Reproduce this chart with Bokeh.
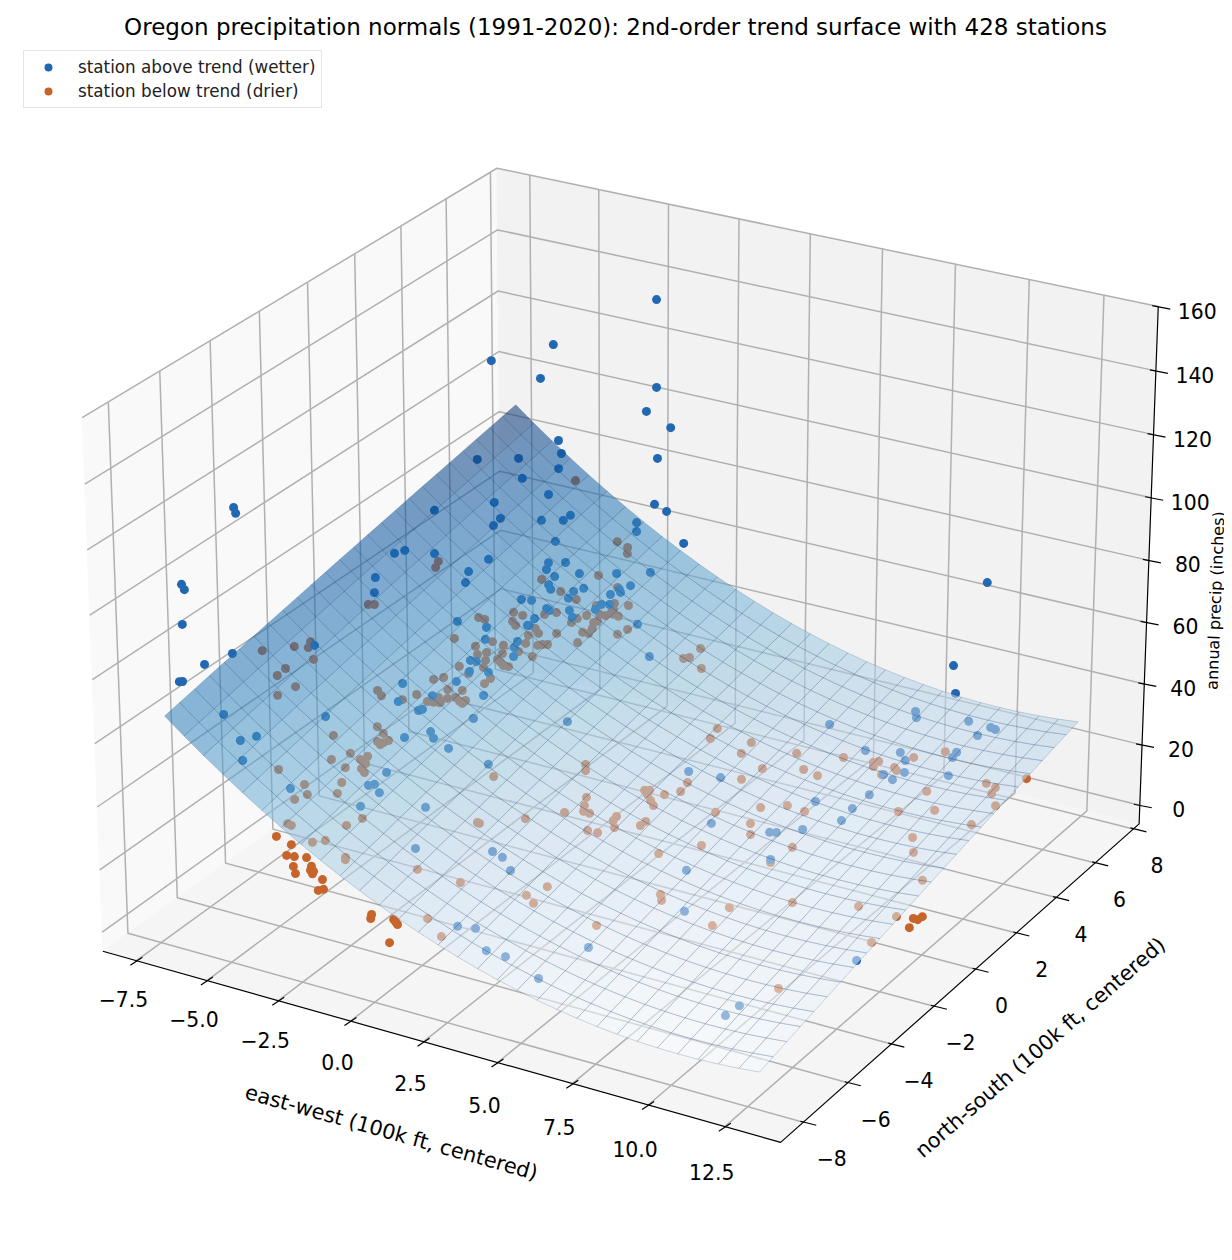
import numpy as np
from bokeh.plotting import figure
from bokeh.embed import file_html
from bokeh.resources import INLINE
from bokeh.core.properties import value
from bokeh.models import Legend, LegendItem

# ---- chart values -------------------------------------------------------
above_x = [-7.19,-7.23,-7.16,-7.20,-7.14,-7.13,-6.88,-7.23,-7.18,-6.19,-6.05,-5.93,-5.36,-5.92,-5.65,-5.67,-5.92,-4.15,-5.17,-4.97,
-4.76,-3.41,-3.14,-2.59,-2.54,-2.63,-1.95,-1.76,-2.32,-1.27,-1.94,-5.76,-7.22,-6.22,-2.04,-2.31,-1.50,-2.07,-5.40,-5.09,
-6.44,-5.75,-4.84,-5.29,-2.12,-1.73,-4.50,-5.31,-4.89,-4.87,-4.11,-3.71,-3.68,-2.28,-2.09,-0.90,-3.43,-4.29,-3.13,-2.81,
-4.41,-4.25,-3.03,-2.73,-2.32,-1.60,-0.95,-2.68,-2.54,-2.06,-1.93,-1.07,-2.02,-1.28,-1.21,-1.12,-2.89,-2.68,-1.25,-1.09,
-1.26,-2.23,-2.13,-1.75,-1.55,-2.26,-3.63,-2.98,-2.25,-2.21,-0.10,-2.76,-2.11,-2.05,-1.88,0.84,-2.62,-2.49,-2.42,-2.04,
-2.46,-1.67,-1.40,0.53,-0.17,-3.41,-1.97,-2.05,-1.96,-1.71,-1.79,-0.53,0.10,1.72,2.05,2.50,2.56,2.98,3.68,4.23,4.25,5.13,
5.98,7.62,7.79,8.30,6.47,7.38,5.91,5.45,11.06,10.93,9.78,8.68,9.00,8.39,8.57,10.09,10.87,11.06,10.71,6.51,8.06,9.03,10.57,
10.59,9.37,9.65,9.14,9.51,10.95,9.27,8.03,9.17,9.18,8.39,12.7]
above_y = [-4.95,-4.83,-7.12,-6.97,-7.16,-6.35,-5.51,-7.25,-7.18,2.26,0.33,0.63,1.23,-0.66,-1.03,-3.55,-7.00,-4.92,-7.21,-6.79,
-7.60,-2.56,-3.08,-2.89,-2.78,-2.24,-3.16,-3.27,-3.82,-3.23,7.01,7.14,6.13,7.12,7.15,7.03,7.11,7.24,6.90,6.64,4.49,5.50,
6.19,5.09,7.17,7.23,5.29,3.84,3.59,3.25,4.47,4.96,5.25,6.53,6.28,6.95,4.24,2.30,3.54,3.91,1.56,1.22,3.32,3.31,3.92,4.71,
5.44,2.97,2.89,3.32,3.61,4.67,3.03,4.01,4.33,4.27,2.01,2.20,3.55,3.72,3.29,2.31,2.32,2.73,2.61,1.80,0.09,0.56,1.47,1.51,
3.73,0.24,0.85,0.63,0.38,3.05,-0.60,-0.50,-0.89,-0.53,-1.41,-1.21,-1.99,-0.28,-2.88,-7.26,-5.01,-5.67,-5.53,-5.63,-6.32,
-5.13,-6.33,-5.07,-5.06,-5.28,-7.60,-7.37,-7.79,-7.67,0.37,0.67,-0.89,-0.42,-0.34,-1.30,-2.67,-3.96,-6.26,-7.81,-6.44,-6.88,
6.90,6.92,6.58,5.47,5.26,5.66,5.62,5.58,5.20,3.93,3.50,3.82,4.37,4.14,3.58,3.14,2.85,2.76,3.42,1.99,1.16,1.32,0.79,0.06,-3.4]
above_z = [116.2,113.7,103.3,100.8,91.1,74.4,74.0,73.5,73.3,81.9,77.9,77.6,74.8,75.4,73.0,69.1,64.9,57.2,59.6,59.1,56.4,56.9,54.5,
51.9,51.8,53.1,48.1,47.0,48.9,44.7,136.2,113.5,110.0,101.6,107.0,99.2,95.2,83.3,83.9,81.5,87.1,84.0,79.2,80.4,68.4,66.6,
75.8,78.6,75.5,74.9,72.2,70.6,70.9,65.2,63.9,59.2,67.9,69.9,65.1,64.0,69.4,67.9,64.2,62.6,61.4,59.0,57.1,61.8,61.0,59.2,
59.0,56.4,58.5,56.4,56.6,56.1,61.4,60.6,55.5,55.0,55.2,58.4,57.9,56.7,55.5,57.7,62.5,59.6,57.2,57.0,50.7,57.9,55.5,54.8,
53.6,45.8,55.8,55.2,54.2,52.9,53.6,49.9,47.3,41.6,40.3,48.9,45.1,44.4,44.2,42.7,42.0,38.1,33.3,29.2,28.1,26.3,22.1,21.2,
18.4,17.2,30.7,29.2,25.1,23.6,23.5,21.5,21.3,17.9,16.1,14.3,12.1,11.3,70.0,40.4,33.8,32.4,31.9,32.1,32.1,32.1,31.4,32.0,
29.5,29.4,30.1,29.7,28.9,28.1,27.8,27.5,28.6,26.3,25.7,25.3,24.4,23.7,12.5]
below_x = [-5.86,-5.79,-6.24,-6.14,-6.8,-6.70,-6.52,-6.45,-6.14,-6.44,-6.45,-5.94,-6.08,-4.46,-4.29,-3.67,-3.52,-3.21,-3.68,
-3.84,-3.35,-3.22,-3.11,-3.22,-3.04,-3.77,-4.38,-3.53,-3.48,-3.37,-3.30,-3.35,-3.74,-3.37,-3.44,-3.96,-5.03,-3.01,-2.69,
-2.57,-2.67,-3.66,-3.06,-2.05,-2.60,-1.46,-1.78,-2.09,-3.52,-3.29,-2.90,-2.71,-2.07,-1.67,-1.65,-1.84,-1.70,-1.57,-1.43,
-4.06,-3.91,-3.36,-3.22,-2.19,-2.22,-1.74,-1.79,-2.79,-2.63,-2.28,-1.80,-1.66,-1.69,-0.97,-1.07,-2.78,-4.09,-3.33,-1.69,
-2.67,-2.40,-2.33,-2.23,-3.55,-3.05,-2.64,-2.28,-3.22,-3.35,-2.91,0.95,0.91,0.81,1.41,-2.88,-3.08,-2.98,-2.76,-2.53,-2.65,
-3.45,-3.14,-2.63,-2.64,-2.92,-3.09,-2.91,-2.75,-2.66,-2.66,3.10,3.17,-3.27,-3.56,-3.25,-3.12,-4.70,-3.97,-3.34,-3.73,-3.21,
-3.86,-0.59,-2.27,-3.53,-3.43,-2.43,0.03,0.09,-2.73,-2.53,-1.83,-1.79,-0.21,0.91,0.98,1.63,4.20,4.22,5.53,5.06,4.82,1.03,
1.16,3.64,3.69,2.86,2.97,3.01,3.39,3.21,3.39,1.75,1.88,1.99,2.16,1.61,0.92,5.93,6.54,4.97,6.06,6.32,2.81,2.83,3.01,3.57,
3.54,2.49,2.75,5.40,7.67,4.58,7.48,2.82,2.56,2.88,5.55,5.71,7.52,9.01,4.76,7.52,10.76,6.78,6.08,6.57,7.67,7.78,7.77,8.34,
8.47,8.18,8.60,9.30,9.82,11.29,11.66,11.71,12.15,9.56,10.53,7.11,11.95,10.62,11.03,12.02,10.89,12.22,12.18,-3.49,-3.07,
-3.13,-2.79,-2.55,-2.80,-2.81,-2.29,-2.23,-2.15,-2.13,-1.83,-2.07,-1.81,-0.21,-0.15,0.32,0.40,0.50,0.51,12.33,12.76,12.67,
12.73,12.64]
below_y = [2.00,1.79,-0.60,-0.46,-4.4,-3.20,-2.73,-2.91,-3.06,-3.88,-4.21,-4.06,-4.64,-2.38,-2.42,-0.93,-0.67,-0.88,-1.65,-2.07,
-1.59,-1.49,-1.37,-1.27,-1.10,-3.23,-4.35,-3.27,-3.58,-3.59,-3.33,-3.48,-4.41,-4.13,-4.35,-4.94,7.21,6.57,6.64,6.47,5.25,
3.89,4.00,5.34,4.13,5.08,4.84,4.40,2.44,2.56,3.06,3.36,3.92,4.65,4.53,4.23,4.32,4.52,4.57,1.55,1.63,2.19,2.15,3.65,3.42,
4.00,3.89,2.50,2.44,2.82,3.39,3.49,3.70,4.40,4.06,2.17,0.51,1.25,3.02,1.91,2.11,2.24,2.34,0.77,1.39,1.55,1.72,0.85,0.61,
1.17,5.31,4.84,4.69,4.74,0.91,0.63,0.41,0.90,0.96,0.88,-0.07,-0.05,0.28,0.03,-0.60,-1.35,-0.91,-0.93,-0.78,-0.92,3.24,2.82,
-4.34,-4.84,-4.54,-4.57,-6.25,-6.05,-5.26,-6.22,-5.60,-6.59,-2.14,-5.69,-7.27,-7.24,-6.16,-3.62,-3.61,-7.21,-6.92,-6.93,
-6.98,-5.89,-5.45,-6.93,-7.15,3.37,2.87,3.72,2.73,2.07,-0.11,-0.28,1.13,0.75,0.19,0.27,0.12,0.40,-0.00,-0.10,-1.00,-1.26,
-1.44,-1.39,-1.80,-2.65,1.47,1.90,0.66,0.82,0.47,-1.02,-1.19,-1.37,-0.69,-0.89,-1.90,-1.79,-0.56,0.59,-1.43,-0.17,-4.10,
-4.68,-4.78,-2.62,-2.78,-2.12,-1.24,-4.43,-2.89,-4.27,4.25,3.30,3.29,4.46,4.56,4.32,4.54,4.46,4.14,5.12,5.68,4.02,4.84,4.75,
4.49,4.04,3.01,3.39,1.93,3.14,2.19,1.65,0.67,-0.76,-0.85,-1.96,-7.78,-7.67,-7.80,-7.88,-7.67,-7.92,-7.83,-7.78,-7.89,-7.86,
-7.93,-7.88,-7.78,-7.87,-7.81,-7.92,-7.54,-7.56,-7.60,-7.95,5.32,-0.82,-0.48,-0.34,-0.83]
below_z = [67.3,66.5,65.7,65.2,69.3,64.6,64.1,63.3,61.0,61.7,61.2,58.0,58.0,51.3,50.2,49.0,48.6,46.5,47.9,48.1,46.1,45.6,45.1,46.0,
45.2,45.8,47.6,44.4,43.6,42.9,43.0,43.0,43.7,42.1,42.1,44.1,69.9,57.1,55.5,54.6,53.3,56.7,53.5,50.2,51.2,46.9,48.1,49.0,
53.6,52.5,51.1,50.6,48.2,47.3,47.0,47.5,46.9,46.6,46.0,55.3,54.6,52.3,51.5,48.3,48.1,46.6,46.7,49.6,48.7,47.5,46.0,45.4,
45.9,43.6,43.5,49.1,53.8,50.6,44.8,48.1,47.0,46.8,46.5,51.1,49.3,47.4,45.7,49.4,49.7,48.1,36.9,36.3,36.5,34.3,47.6,48.3,
47.4,46.9,45.8,46.3,49.2,47.5,45.3,44.9,45.4,45.1,44.8,44.0,43.7,43.5,26.4,25.6,41.2,41.9,40.7,39.9,46.3,42.2,40.0,40.5,
38.7,40.7,31.3,33.5,37.6,37.1,33.5,26.2,26.0,33.3,32.7,29.1,28.8,23.4,19.5,16.7,13.9,23.7,22.9,21.4,20.7,20.2,28.0,27.2,
21.5,20.8,22.3,22.1,21.7,21.0,20.9,20.2,23.9,23.0,22.4,21.9,23.1,24.2,17.0,16.7,17.6,15.7,14.7,20.4,20.1,19.2,18.8,18.5,
20.0,19.3,14.7,13.2,15.0,12.1,15.2,15.1,13.9,11.0,10.4,8.8,9.1,9.5,7.5,3.8,20.1,19.7,18.9,19.4,19.5,19.1,18.9,18.7,18.4,
19.7,20.2,17.5,19.1,19.1,18.7,18.3,15.9,16.5,16.0,16.7,14.6,13.8,12.8,9.8,10.4,8.5,36.5,34.3,31.5,32.4,31.5,29.5,26.7,30.0,
29.5,29.2,28.9,27.5,22.9,24.4,20.1,19.6,18.3,17.9,17.5,13.8,20.5,11.0,8.4,8.7,7.8]
trend_coef = [38.28757, -4.21074, 1.62464, 0.20747, 0.00291, -0.00711]  # 1, x, y, x2, xy, y2
surface_x_span = (-7.2, 12.8)
surface_y_span = (-7.9, 7.2)
x_ticks = [-7.5, -5.0, -2.5, 0.0, 2.5, 5.0, 7.5, 10.0, 12.5]
y_ticks = [-8, -6, -4, -2, 0, 2, 4, 6, 8]
z_ticks = [0, 20, 40, 60, 80, 100, 120, 140, 160]
x_limits = (-8.7, 14.3)
y_limits = (-9.0, 8.3)
z_limits = (-6.2, 160.0)

TITLE = "Oregon precipitation normals (1991-2020): 2nd-order trend surface with 428 stations"
FONT = "DejaVu Sans"
BLUES = ["#f7fbff","#deebf7","#c6dbef","#9ecae1","#6baed6","#4292c6","#2171b5","#08519c","#08306b"]
N_X, N_Y = 30, 25

# ---- 3D camera (elevation 25, azimuth -60, box aspect 4:4:3) ------------
lim = np.array([x_limits, y_limits, z_limits])
asp = np.array([4, 4, 3.0])
box = asp * 1.8294640721620434 * 25 / 24 / np.linalg.norm(asp)
SCALE, CX, CY = 6489.829, 630.532, 628.119
el, az = np.radians(25.0), np.radians(-60.0)
W_ = np.array([np.cos(el)*np.cos(az), np.cos(el)*np.sin(az), np.sin(el)])
EYE = box/2 + 10*W_
U_ = np.cross([0, 0, 1.0], W_); U_ /= np.linalg.norm(U_)
V_ = np.cross(W_, U_)

def project(x, y, z):
    x, y, z = np.broadcast_arrays(np.asarray(x, float), np.asarray(y, float), np.asarray(z, float))
    P = np.stack([(x-lim[0,0])/(lim[0,1]-lim[0,0])*box[0],
                  (y-lim[1,0])/(lim[1,1]-lim[1,0])*box[1],
                  (z-lim[2,0])/(lim[2,1]-lim[2,0])*box[2]], axis=-1)
    q = P - EYE
    d = -(q @ W_)
    return SCALE*(q @ U_)/d + CX, CY - SCALE*(q @ V_)/d

def trend(x, y):
    c = trend_coef
    return c[0] + c[1]*x + c[2]*y + c[3]*x*x + c[4]*x*y + c[5]*y*y

def hex2rgb(h): return np.array([int(h[i:i+2], 16) for i in (1, 3, 5)], float)
STOPS = np.array([hex2rgb(h) for h in BLUES])
def blues(t):
    t = np.clip(t, 0, 1)*(len(BLUES)-1)
    i = min(int(t), len(BLUES)-2)
    c = STOPS[i] + (STOPS[i+1]-STOPS[i])*(t-i)
    return "#%02x%02x%02x" % tuple(int(round(v)) for v in c)

p = figure(width=1224, height=1252, x_range=(0, 1224), y_range=(1252, 0),
           toolbar_location=None, output_backend="svg", min_border=0)
p.axis.visible = False
p.grid.visible = False
p.outline_line_color = None

x0, x1 = x_limits; y0, y1 = y_limits; z0, z1 = z_limits

def pane(xs, ys, zs, color):
    a, b = project(xs, ys, zs)
    p.patch(list(a), list(b), fill_color=color, line_color=color, line_width=1)

pane([x0, x0, x0, x0], [y0, y1, y1, y0], [z0, z0, z1, z1], "#f9f9f9")
pane([x0, x1, x1, x0], [y1, y1, y1, y1], [z0, z0, z1, z1], "#f2f2f2")
pane([x0, x1, x1, x0], [y0, y0, y1, y1], [z0, z0, z0, z0], "#f5f5f5")

gx, gy = [], []
def poly(xs, ys, zs):
    a, b = project(xs, ys, zs)
    gx.append(list(a)); gy.append(list(b))
for t in x_ticks:
    poly([t, t, t], [y0, y1, y1], [z0, z0, z1])
for t in y_ticks:
    poly([x1, x0, x0], [t, t, t], [z0, z0, z1])
for t in z_ticks:
    poly([x0, x0, x1], [y0, y1, y1], [t, t, t])
p.multi_line(gx, gy, line_color="#b0b0b0", line_width=1.5)

# stations
bx, by = project(below_x, below_y, below_z)
ax_, ay_ = project(above_x, above_y, above_z)
r_below = p.scatter(bx, by, size=9, fill_color="#c7642c", line_color=None)
r_above = p.scatter(ax_, ay_, size=9, fill_color="#2268b1", line_color=None)

# trend surface, on top of everything as in the reference
gxs = np.array([surface_x_span[0] + (surface_x_span[1]-surface_x_span[0])*i/N_X for i in range(N_X+1)])
gys = np.array([surface_y_span[0] + (surface_y_span[1]-surface_y_span[0])*i/N_Y for i in range(N_Y+1)])
XX, YY = np.meshgrid(gxs, gys, indexing="ij")
ZZ = trend(XX, YY)
PX, PY = project(XX, YY, ZZ)
zmin, zmax = ZZ.min(), ZZ.max()
cx_, cy_, cc = [], [], []
for i in range(N_X):
    for j in range(N_Y):
        cx_.append([PX[i,j], PX[i+1,j], PX[i+1,j+1], PX[i,j+1]])
        cy_.append([PY[i,j], PY[i+1,j], PY[i+1,j+1], PY[i,j+1]])
        cc.append(blues((ZZ[i:i+2, j:j+2].mean()-zmin)/(zmax-zmin)))
p.patches(cx_, cy_, fill_color=cc, fill_alpha=0.55, line_color="#20406f", line_alpha=0.4, line_width=0.5)

# axis lines and ticks
a, b = project([x0, x1, x1, x1], [y0, y0, y1, y1], [z0, z0, z0, z1])
p.line(list(a), list(b), line_color="black", line_width=1.2)

lx, ly, lt = [], [], []
segx, segy = [], []
a, b = project(x_ticks, y0, z0)
for A, B, t in zip(a, b, x_ticks):
    segx.append([A-6, A+6]); segy.append([B+4.5, B-3.5])
    lx.append(A-13); ly.append(B+38+0.35*(t+7.5)); lt.append(("%.1f" % t).replace("-", "\u2212"))
a, b = project(x1, y_ticks, z0)
for A, B, t in zip(a, b, y_ticks):
    segx.append([A-3, A+13]); segy.append([B-1, B+3])
    lx.append(A+26-0.3*t); ly.append(B+36); lt.append(str(t).replace("-", "\u2212"))
a, b = project(x1, y1, z_ticks)
for A, B, t in zip(a, b, z_ticks):
    segx.append([A-6, A+12]); segy.append([B-1, B+2.5])
    lx.append(A+39); ly.append(B+4); lt.append(str(t))
p.multi_line(segx, segy, line_color="black", line_width=1.2)
p.text(lx, ly, text=lt, text_font=value(FONT), text_font_size="20.4px", text_align="center",
       text_baseline="middle", text_color="black")

def label(x, y, s, size, angle=0.0):
    p.text([x], [y], text=[s], angle=angle, text_font=value(FONT), text_font_size=size,
           text_align="center", text_baseline="middle", text_color="black")
label(615, 26, TITLE, "23px")
label(391, 1132, "east-west (100k ft, centered)", "20.8px", np.radians(-15.7))
label(1040, 1047, "north-south (100k ft, centered)", "20.8px", np.radians(41))
label(1215, 600, "annual precip (inches)", "16px", np.radians(87.8))

legend = Legend(items=[LegendItem(label="station above trend (wetter)", renderers=[r_above]),
                       LegendItem(label="station below trend (drier)", renderers=[r_below])],
                location=(23, 1144), orientation="vertical",
                label_text_font=FONT, label_text_font_size="16.8px", label_text_color="#222222",
                glyph_width=36, glyph_height=20, label_standoff=12, spacing=4, padding=6, margin=0,
                border_line_color="#cccccc", border_line_width=1.5, background_fill_color="white",
                background_fill_alpha=0.8)
p.add_layout(legend, "center")

open("out.html", "w").write(file_html(p, INLINE))
